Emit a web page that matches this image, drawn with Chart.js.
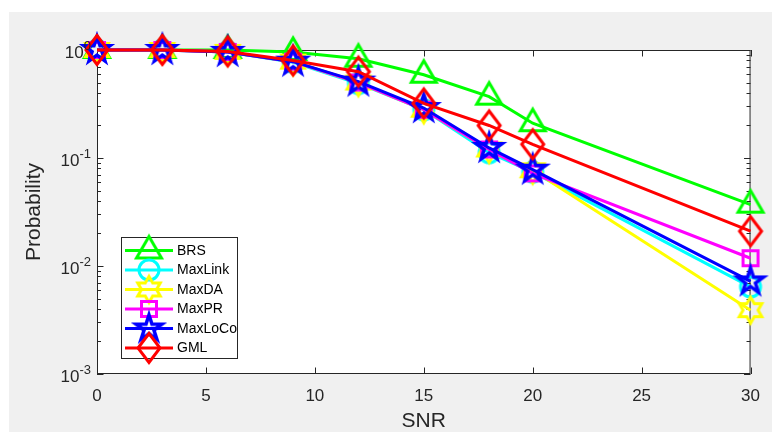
<!DOCTYPE html>
<html><head><meta charset="utf-8">
<script src="https://cdn.jsdelivr.net/npm/chart.js@4.4.0/dist/chart.umd.min.js"></script>
<style>html,body{margin:0;padding:0;background:#fff;overflow:hidden}</style>
</head><body>
<canvas id="c" width="772" height="432" style="display:block;width:772px;height:432px"></canvas>
<script>
// ---- data ----
const snr = [0, 3, 6, 9, 12, 15, 18, 20, 30];
const seriesNames = ['BRS', 'MaxLink', 'MaxDA', 'MaxPR', 'MaxLoCo', 'GML'];
const brs     = [1.0, 1.0, 1.0, 0.96, 0.83, 0.59, 0.37, 0.21, 0.037];
const maxLink = [1.0, 1.0, 0.96, 0.77, 0.49, 0.28, 0.112, 0.074, 0.0064];
const maxDA   = [1.0, 1.0, 0.96, 0.78, 0.50, 0.28, 0.12, 0.077, 0.0039];
const maxPR   = [1.0, 1.0, 0.96, 0.78, 0.50, 0.28, 0.12, 0.072, 0.0118];
const maxLoCo = [1.0, 1.0, 0.96, 0.78, 0.51, 0.29, 0.124, 0.078, 0.0072];
const gml     = [1.0, 1.0, 0.97, 0.80, 0.63, 0.32, 0.20, 0.134, 0.021];
const xTicks = [0, 5, 10, 15, 20, 25, 30];
const yTickValues = [1, 0.1, 0.01, 0.001];
const yTickBase = '10';
const yTickExponents = ['0', '-1', '-2', '-3'];
const xTitle = 'SNR';
const yTitle = 'Probability';

// ---- styles ----
const seriesColors = ['#00ff00', '#00ffff', '#ffff00', '#ff00ff', '#0000ff', '#ff0000'];
const seriesMarkers = ['triangle', 'circle', 'hexagram', 'square', 'pentagram', 'diamond'];
const seriesValues = [brs, maxLink, maxDA, maxPR, maxLoCo, gml];
const AX = '#262626';
const FONT = '"Liberation Sans", Arial, Helvetica, sans-serif';

function makeMarker(type, color) {
  const c = document.createElement('canvas');
  c.width = 40; c.height = 40;
  const g = c.getContext('2d');
  const cx = 20, cy = 20;
  g.strokeStyle = color; g.lineWidth = 3; g.lineJoin = 'miter'; g.miterLimit = 10;
  g.beginPath();
  if (type === 'triangle') {
    g.moveTo(cx, cy - 14); g.lineTo(cx + 12.5, cy + 7.5); g.lineTo(cx - 12.5, cy + 7.5); g.closePath();
  } else if (type === 'circle') {
    g.arc(cx, cy, 10, 0, Math.PI * 2);
  } else if (type === 'square') {
    g.rect(cx - 7.5, cy - 7.5, 15, 15);
  } else if (type === 'diamond') {
    g.moveTo(cx, cy - 14.5); g.lineTo(cx + 11, cy); g.lineTo(cx, cy + 14.5); g.lineTo(cx - 11, cy); g.closePath();
  } else if (type === 'hexagram') {
    const R = 13, r = R / Math.sqrt(3);
    for (let i = 0; i < 12; i++) {
      const a = -Math.PI / 2 + i * Math.PI / 6;
      const rr = i % 2 === 0 ? R : r;
      const px = cx + rr * Math.cos(a), py = cy + rr * Math.sin(a);
      i === 0 ? g.moveTo(px, py) : g.lineTo(px, py);
    }
    g.closePath();
  } else if (type === 'pentagram') {
    const R = 13.5, r = R * 0.382;
    g.lineWidth = 3.5;
    for (let i = 0; i < 10; i++) {
      const a = -Math.PI / 2 + i * Math.PI / 5;
      const rr = i % 2 === 0 ? R : r;
      const px = cx + rr * Math.cos(a), py = cy + rr * Math.sin(a);
      i === 0 ? g.moveTo(px, py) : g.lineTo(px, py);
    }
    g.closePath();
  }
  g.stroke();
  return c;
}
const markerImgs = seriesMarkers.map((m, i) => makeMarker(m, seriesColors[i]));

const datasets = seriesNames.map((name, i) => ({
  label: name,
  data: snr.map((x, j) => ({ x: x, y: seriesValues[i][j] })),
  borderColor: seriesColors[i],
  backgroundColor: seriesColors[i],
  borderWidth: 3,
  pointStyle: markerImgs[i],
  pointRadius: 10,
  pointHoverRadius: 10,
  tension: 0,
  clip: false,
  order: seriesNames.length - i
}));

const axesPlugin = {
  id: 'matlabAxes',
  beforeDraw(chart) {
    const { ctx, chartArea: a } = chart;
    ctx.save();
    ctx.fillStyle = '#ffffff'; ctx.fillRect(0, 0, chart.width, chart.height);
    ctx.fillStyle = '#f0f0f0'; ctx.fillRect(9, 12, chart.width - 9, chart.height - 12);
    ctx.fillStyle = '#ffffff'; ctx.fillRect(a.left, a.top, a.right - a.left, a.bottom - a.top);
    ctx.restore();
  },
  beforeDatasetsDraw(chart) {
    const { ctx, chartArea: a, scales } = chart;
    const xs = scales.x, ys = scales.y;
    ctx.save();
    ctx.strokeStyle = AX; ctx.lineWidth = 1;
    ctx.strokeRect(a.left + 0.5, a.top + 0.5, a.right - a.left - 1, a.bottom - a.top - 1);
    ctx.beginPath();
    xTicks.forEach(v => {
      const px = Math.round(xs.getPixelForValue(v)) + 0.5;
      ctx.moveTo(px, a.bottom); ctx.lineTo(px, a.bottom - 6.5);
      ctx.moveTo(px, a.top); ctx.lineTo(px, a.top + 6.5);
    });
    for (let d = -3; d <= 0; d++) {
      for (let m = 1; m <= 9; m++) {
        const v = m * Math.pow(10, d);
        if (v > 1.0001) break;
        const py = Math.round(ys.getPixelForValue(v)) + 0.5;
        const len = m === 1 ? 6.5 : 4;
        ctx.moveTo(a.left, py); ctx.lineTo(a.left + len, py);
        ctx.moveTo(a.right, py); ctx.lineTo(a.right - len, py);
      }
    }
    ctx.stroke();
    ctx.restore();
  },
  afterDatasetsDraw(chart) {
    const { ctx } = chart;
    ctx.save();
    const bx = 121, by = 237, bw = 116, bh = 121;
    ctx.fillStyle = '#ffffff';
    ctx.fillRect(bx, by, bw, bh);
    ctx.strokeStyle = AX; ctx.lineWidth = 1;
    ctx.strokeRect(bx + 0.5, by + 0.5, bw, bh);
    chart.data.datasets.forEach((ds, i) => {
      const y = 250.5 + i * 19.5;
      ctx.strokeStyle = ds.borderColor; ctx.lineWidth = 3;
      ctx.beginPath(); ctx.moveTo(125, y); ctx.lineTo(173, y); ctx.stroke();
      const img = ds.pointStyle;
      ctx.drawImage(img, 149 - img.width / 2, y - img.height / 2);
      ctx.fillStyle = '#000000';
      ctx.font = '14px ' + FONT;
      ctx.textAlign = 'left'; ctx.textBaseline = 'middle';
      ctx.fillText(ds.label, 177, y + 0.5);
    });
    ctx.restore();
  },
  afterDraw(chart) {
    const { ctx, chartArea: a } = chart;
    const ys = chart.scales.y;
    ctx.save();
    ctx.fillStyle = AX;
    ctx.textBaseline = 'middle'; ctx.textAlign = 'left';
    const right = a.left - 6;
    yTickValues.forEach((v, i) => {
      const py = ys.getPixelForValue(v);
      ctx.font = '13px ' + FONT;
      const ew = ctx.measureText(yTickExponents[i]).width;
      ctx.fillText(yTickExponents[i], right - ew, py - 4);
      ctx.font = '17px ' + FONT;
      const bw = ctx.measureText(yTickBase).width;
      ctx.fillText(yTickBase, right - ew - bw, py + 3);
    });
    ctx.restore();
  }
};

new Chart(document.getElementById('c'), {
  type: 'line',
  data: { datasets },
  options: {
    responsive: false,
    animation: false,
    devicePixelRatio: 1,
    events: [],
    layout: { padding: { left: 0, top: 50, right: 20, bottom: 0 } },
    plugins: { legend: { display: false }, tooltip: { enabled: false } },
    scales: {
      x: {
        type: 'linear', min: 0, max: 30,
        afterBuildTicks: s => { s.ticks = xTicks.map(v => ({ value: v })); },
        afterFit: s => { s.height = 58; },
        grid: { display: false, drawTicks: false },
        border: { display: false },
        ticks: { color: AX, font: { family: FONT, size: 17 }, padding: 12, maxRotation: 0, autoSkip: false },
        title: { display: true, text: xTitle, color: AX, font: { family: FONT, size: 21, lineHeight: 1 }, padding: { top: 0, bottom: 0 } }
      },
      y: {
        type: 'logarithmic', min: 0.001, max: 1,
        afterFit: s => { s.width = 97; },
        grid: { display: false, drawTicks: false },
        border: { display: false },
        ticks: { display: false },
        title: { display: true, text: yTitle, color: AX, font: { family: FONT, size: 21, lineHeight: 1 }, padding: { top: 24, bottom: 0 } }
      }
    }
  },
  plugins: [axesPlugin]
});
</script>
</body></html>
